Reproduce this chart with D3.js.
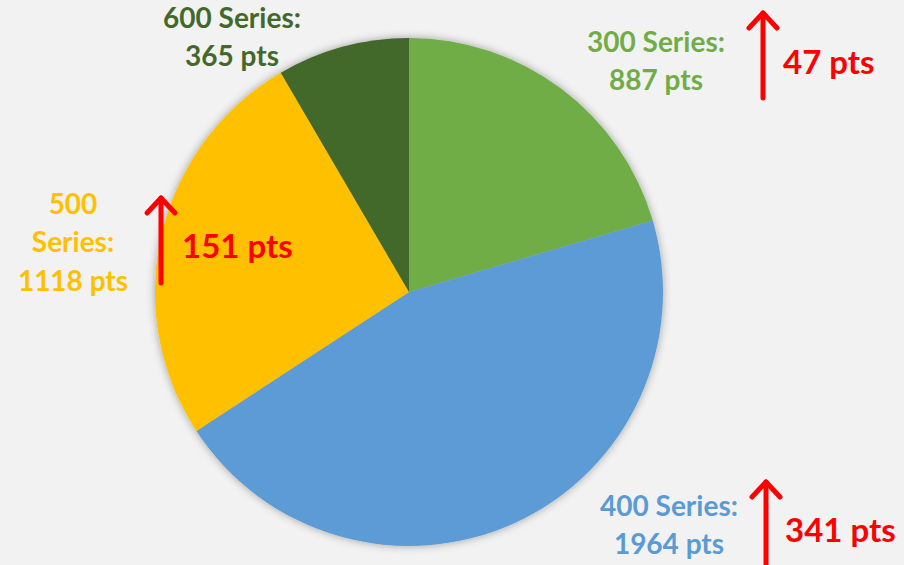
<!DOCTYPE html>
<html>
<head>
<meta charset="utf-8">
<script src="https://cdn.jsdelivr.net/npm/d3@7"></script>
<style>
  body { margin: 0; background: #f2f2f2; }
  svg { display: block; font-family: Lato, "Open Sans", sans-serif; font-weight: bold; }
</style>
</head>
<body>
<div id="chart"></div>
<script>
// data
var series = ["300 Series", "400 Series", "500 Series", "600 Series"];
var points = [887, 1964, 1118, 365];
var gains = [47, 341, 151, null];
var colors = ["#70ad47", "#5b9bd5", "#ffc000", "#43682b"];

var svgWidth = 904;
var svgHeight = 565;
var cx = 409, cy = 292, radius = 254;

var svg = d3.select("#chart")
  .append("svg")
  .attr("width", svgWidth)
  .attr("height", svgHeight);

svg.append("rect")
  .attr("width", svgWidth)
  .attr("height", svgHeight)
  .attr("fill", "#f2f2f2");

// soft shadow round the pie
var defs = svg.append("defs");
var filt = defs.append("filter")
  .attr("id", "shadow")
  .attr("x", "-10%").attr("y", "-10%")
  .attr("width", "120%").attr("height", "120%");
filt.append("feDropShadow")
  .attr("dx", 0).attr("dy", 0)
  .attr("stdDeviation", 4)
  .attr("flood-color", "#000")
  .attr("flood-opacity", 0.35);

var pie = d3.pie().sort(null).value(d => d);
var arc = d3.arc().innerRadius(0).outerRadius(radius);

var pieGroup = svg.append("g")
  .attr("transform", `translate(${cx}, ${cy})`)
  .attr("filter", "url(#shadow)");

pieGroup.selectAll("path")
  .data(pie(points))
  .enter()
  .append("path")
  .attr("d", arc)
  .attr("fill", (d, i) => colors[i]);

// label layout (manual placement, like the original)
var labelLayout = [
  { x: 656, y: 42, lines: 2 },
  { x: 669, y: 506, lines: 2 },
  { x: 73, y: 204, lines: 3 },
  { x: 232, y: 18, lines: 2 }
];

var lineH = 38.5;
series.forEach(function(name, i) {
  var lay = labelLayout[i];
  var words = lay.lines === 3
    ? [name.split(" ")[0], name.split(" ")[1] + ":", points[i] + " pts"]
    : [name + ":", points[i] + " pts"];
  var t = svg.append("text")
    .attr("text-anchor", "middle")
    .attr("fill", colors[i])
    .attr("font-size", 28);
  words.forEach(function(w, j) {
    t.append("tspan")
      .attr("x", lay.x)
      .attr("y", lay.y + j * lineH)
      .attr("dy", "0.35em")
      .text(w);
  });
});

// gain arrows
var arrowLayout = [
  { x: 763, top: 13, bottom: 98, tx: 783, ty: 62 },
  { x: 766, top: 482, bottom: 570, tx: 785, ty: 530 },
  { x: 161, top: 198, bottom: 283, tx: 182, ty: 246 },
  null
];

gains.forEach(function(g, i) {
  if (g == null) return;
  var a = arrowLayout[i];
  var ag = svg.append("g")
    .attr("stroke", "#ff0000")
    .attr("stroke-width", 5)
    .attr("stroke-linecap", "round")
    .attr("stroke-linejoin", "round")
    .attr("fill", "none");
  ag.append("line")
    .attr("x1", a.x).attr("x2", a.x)
    .attr("y1", a.top).attr("y2", a.bottom);
  ag.append("polyline")
    .attr("points", `${a.x - 14},${a.top + 15} ${a.x},${a.top} ${a.x + 14},${a.top + 15}`);
  svg.append("text")
    .attr("x", a.tx)
    .attr("y", a.ty)
    .attr("dy", "0.35em")
    .attr("fill", "#ff0000")
    .attr("font-size", 33)
    .text(g + " pts");
});
</script>
</body>
</html>
